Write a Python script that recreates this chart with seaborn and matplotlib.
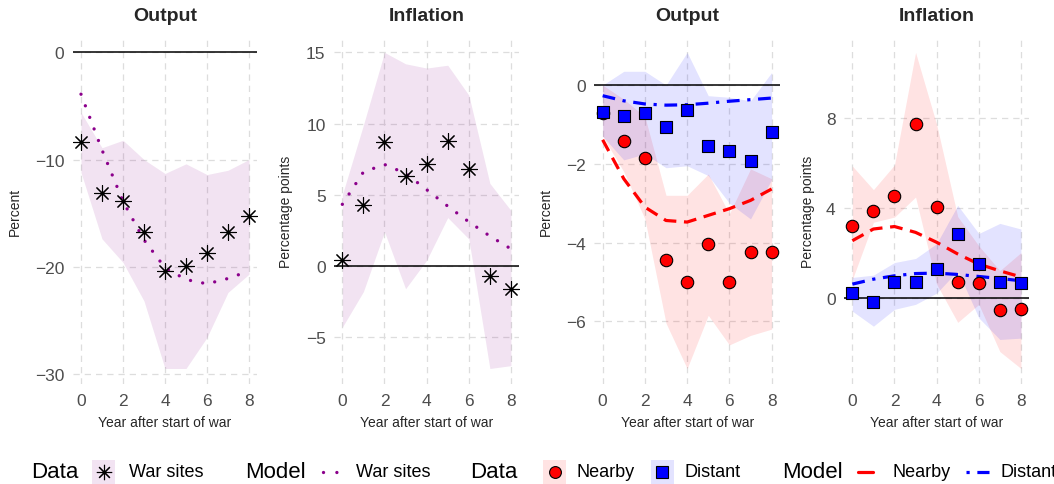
import numpy as np
import pandas as pd
import matplotlib
matplotlib.use("Agg")
import matplotlib.pyplot as plt
import seaborn as sns
from matplotlib.lines import Line2D
from matplotlib.patches import Rectangle

sns.set_theme(style="white")
plt.rcParams['font.family'] = ['Liberation Sans', 'DejaVu Sans']

years = [0, 1, 2, 3, 4, 5, 6, 7, 8]

# Panel 1: Output, war sites
war_out_data = [-8.4, -13.15, -13.85, -16.75, -20.4, -19.95, -18.7, -16.75, -15.25]
war_out_hi = [-5.6, -8.9, -8.2, -10.0, -11.3, -10.4, -11.4, -11.0, -10.0]
war_out_lo = [-11.2, -17.4, -19.6, -23.2, -29.5, -29.5, -26.6, -22.4, -20.7]
war_out_model = [-3.9, -9.1, -13.9, -17.5, -20.1, -21.2, -21.6, -21.1, -20.4]

# Panel 2: Inflation, war sites
war_inf_data = [0.4, 4.26, 8.7, 6.29, 7.13, 8.75, 6.83, -0.7, -1.6]
war_inf_hi = [5.0, 9.9, 15.0, 14.2, 13.9, 14.1, 12.0, 5.8, 3.9]
war_inf_lo = [-4.3, -1.8, 2.4, -1.6, 0.4, 3.4, 1.9, -7.2, -7.0]
war_inf_model = [4.33, 6.6, 7.13, 6.5, 5.36, 4.2, 3.1, 2.1, 1.2]

# Panel 3: Output, nearby / distant
near_out_data = [-0.71, -1.43, -1.85, -4.45, -4.99, -4.03, -4.99, -4.23, -4.24]
near_out_hi = [0.0, -0.36, -0.8, -2.8, -2.8, -2.26, -3.27, -2.13, -2.38]
near_out_lo = [-1.3, -2.2, -3.4, -6.05, -7.2, -5.85, -6.6, -6.36, -6.2]
near_out_model = [-1.39, -2.38, -3.1, -3.44, -3.48, -3.31, -3.14, -2.93, -2.64]
dist_out_data = [-0.68, -0.79, -0.71, -1.07, -0.63, -1.54, -1.68, -1.94, -1.18]
dist_out_hi = [0.0, 0.35, 0.35, 0.0, 0.83, -0.27, -0.31, -0.4, 0.32]
dist_out_lo = [-1.3, -1.9, -1.75, -2.1, -2.05, -2.3, -3.0, -3.4, -2.4]
dist_out_model = [-0.27, -0.4, -0.48, -0.51, -0.5, -0.46, -0.41, -0.37, -0.33]

# Panel 4: Inflation, nearby / distant
near_inf_data = [3.2, 3.83, 4.52, 7.73, 4.05, 0.7, 0.63, -0.55, -0.52]
near_inf_hi = [5.85, 4.8, 5.9, 10.9, 7.7, 3.6, 2.3, 1.2, 2.0]
near_inf_lo = [0.8, 3.35, 3.58, 4.47, 0.6, -1.1, -0.3, -2.4, -3.15]
near_inf_model = [2.53, 3.05, 3.16, 2.9, 2.46, 1.94, 1.49, 1.19, 0.92]
dist_inf_data = [0.22, -0.19, 0.7, 0.7, 1.27, 2.83, 1.49, 0.7, 0.64]
dist_inf_hi = [0.9, 1.0, 1.56, 1.74, 2.4, 4.1, 2.85, 3.3, 3.05]
dist_inf_lo = [-0.6, -1.27, -0.52, -0.3, 0.2, 1.2, -0.9, -1.86, -1.8]
dist_inf_model = [0.6, 0.82, 0.97, 1.07, 1.09, 1.03, 0.94, 0.85, 0.75]

titles = ["Output", "Inflation", "Output", "Inflation"]
ylabels = ["Percent", "Percentage points", "Percent", "Percentage points"]
yticks_list = [[-30, -20, -10, 0], [-5, 0, 5, 10, 15], [-6, -4, -2, 0], [0, 4, 8]]
xticks = [0, 2, 4, 6, 8]
xlabel = "Year after start of war"

WAR_FILL = "darkmagenta"
WAR_LINE = "#8B008B"
RED = "#FF0000"
BLUE = "#0000FF"

W, H = 1054, 485
fig = plt.figure(figsize=(W / 100, H / 100), dpi=100)

def ax_at(l, t, w, h):
    return fig.add_axes([l / W, 1 - (t + h) / H, w / W, h / H])

top, height = 37.6, 347.7
lefts = [72.6, 333.9, 594.2, 843.9]
widths = [184.8, 185.5, 185.9, 185.5]
label_x = [-0.274, -0.22, -0.222, -0.156]

def lims(arrs):
    lo = min(min(a) for a in arrs + [[0]])
    hi = max(max(a) for a in arrs + [[0]])
    p = 0.05 * (hi - lo)
    return (lo - p, hi + p)

DOT = (0, (0.01, 3.7))
DASH = (0, (4, 2.4))
DASHDOT = (0, (4, 2.4, 1, 2.4))

def style(ax, i, ylim):
    ax.set_xlim(-0.4, 8.4)
    ax.set_xticks(xticks)
    ax.set_yticks(yticks_list[i])
    ax.set_ylim(ylim)
    ax.grid(True, color="#DDDDDD", linestyle=(0, (5, 4)), linewidth=0.9)
    ax.set_axisbelow(True)
    for s in ax.spines.values():
        s.set_visible(False)
    ax.tick_params(length=0, pad=6, labelsize=12.5, labelcolor="#4D4D4D")
    ax.set_title(titles[i], fontsize=14, fontweight="bold", pad=12)
    ax.set_xlabel(xlabel, fontsize=10, labelpad=5)
    ax.set_ylabel(ylabels[i], fontsize=10)
    ax.yaxis.set_label_coords(label_x[i], 0.5)
    ax.axhline(0, color="black", linewidth=1.1, zorder=2)

def war_panel(ax, i, data, lo, hi, model):
    df = pd.DataFrame({"year": years, "data": data, "lo": lo, "hi": hi, "model": model})
    ax.fill_between(df["year"], df["lo"], df["hi"], color=WAR_FILL, alpha=0.11, linewidth=0, zorder=1)
    sns.lineplot(data=df, x="year", y="model", ax=ax, color=WAR_LINE, linewidth=2.4,
                 linestyle=DOT, dash_capstyle="round", zorder=3)
    sns.scatterplot(data=df, x="year", y="data", ax=ax, marker=(8, 2, 0), s=130,
                    color="black", edgecolor="black", linewidth=0.8, zorder=4)
    style(ax, i, lims([data, lo, hi, model]))

def nd_panel(ax, i, nd, nlo, nhi, nm, dd, dlo, dhi, dm):
    df = pd.DataFrame({"year": years, "nd": nd, "nlo": nlo, "nhi": nhi, "nm": nm,
                       "dd": dd, "dlo": dlo, "dhi": dhi, "dm": dm})
    ax.fill_between(df["year"], df["nlo"], df["nhi"], color=RED, alpha=0.11, linewidth=0, zorder=1)
    ax.fill_between(df["year"], df["dlo"], df["dhi"], color=BLUE, alpha=0.11, linewidth=0, zorder=1)
    sns.lineplot(data=df, x="year", y="nm", ax=ax, color=RED, linewidth=2.3, linestyle=DASH, zorder=3)
    sns.lineplot(data=df, x="year", y="dm", ax=ax, color=BLUE, linewidth=2.3, linestyle=DASHDOT, zorder=3)
    sns.scatterplot(data=df, x="year", y="nd", ax=ax, marker="o", s=80, color=RED,
                    edgecolor="black", linewidth=0.8, zorder=4)
    sns.scatterplot(data=df, x="year", y="dd", ax=ax, marker="s", s=70, color=BLUE,
                    edgecolor="black", linewidth=0.8, zorder=4)
    style(ax, i, lims([nd, nlo, nhi, nm, dd, dlo, dhi, dm]))

axes = [ax_at(lefts[k], top, widths[k], height) for k in range(4)]
war_panel(axes[0], 0, war_out_data, war_out_lo, war_out_hi, war_out_model)
war_panel(axes[1], 1, war_inf_data, war_inf_lo, war_inf_hi, war_inf_model)
nd_panel(axes[2], 2, near_out_data, near_out_lo, near_out_hi, near_out_model,
         dist_out_data, dist_out_lo, dist_out_hi, dist_out_model)
nd_panel(axes[3], 3, near_inf_data, near_inf_lo, near_inf_hi, near_inf_model,
         dist_inf_data, dist_inf_lo, dist_inf_hi, dist_inf_model)

# ---- bottom legend (drawn in figure pixel space) ----
def fx(x):
    return x / W

def fy(y):
    return 1 - y / H

ly = 473
def ltext(x, s, size):
    fig.text(fx(x), fy(ly), s, fontsize=size, ha="left", va="center", color="black")

def keybox(x, color, alpha):
    fig.add_artist(Rectangle((fx(x), fy(ly + 12)), 23 / W, 24 / H, transform=fig.transFigure,
                             facecolor=color, alpha=alpha, edgecolor="none"))

def keyline(x0, x1, color, ls, cap="butt", lw=2.3):
    fig.add_artist(Line2D([fx(x0), fx(x1)], [fy(ly), fy(ly)], transform=fig.transFigure,
                          color=color, linewidth=lw, linestyle=ls, dash_capstyle=cap))

def keymark(x, marker, s, fc, ec, lw):
    fig.add_artist(Line2D([fx(x)], [fy(ly)], transform=fig.transFigure, marker=marker,
                          markersize=s, markerfacecolor=fc, markeredgecolor=ec,
                          markeredgewidth=lw, linestyle="none"))

ltext(31, "Data", 16)
keybox(92.5, WAR_FILL, 0.11)
keymark(104, (8, 2, 0), 11, "black", "black", 0.8)
ltext(129, "War sites", 13)
ltext(245, "Model", 16)
keyline(323, 342, WAR_LINE, (0, (0.01, 4.0)), "round", 2.4)
ltext(356, "War sites", 13)
ltext(470, "Data", 16)
keybox(543, RED, 0.11)
keymark(554.5, "o", 8.5, RED, "black", 0.8)
ltext(577, "Nearby", 13)
keybox(650.5, BLUE, 0.11)
keymark(662, "s", 8, BLUE, "black", 0.8)
ltext(685, "Distant", 13)
ltext(782, "Model", 16)
keyline(858, 873, RED, "-")
ltext(892, "Nearby", 13)
keyline(966, 989, BLUE, (0, (1, 2.4, 4, 2.4)))
ltext(1000, "Distant", 13)

fig.savefig("out.png", dpi=100)
